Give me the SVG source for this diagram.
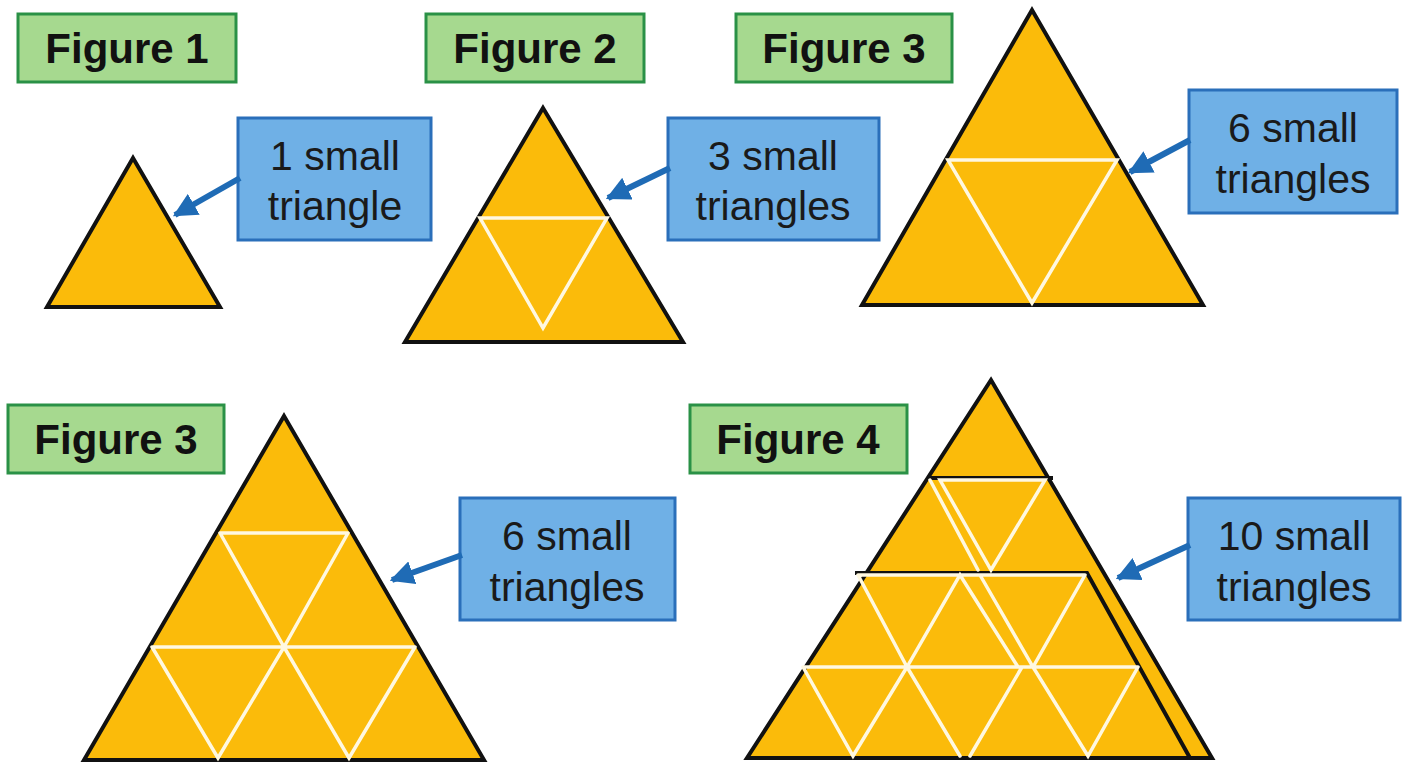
<svg xmlns="http://www.w3.org/2000/svg" width="1408" height="768" viewBox="0 0 1408 768">
<defs>
<marker id="ah" viewBox="0 0 10 10" refX="9" refY="5" markerWidth="4" markerHeight="4" orient="auto"><path d="M0,0L10,5L0,10z" fill="#1f6bb5"/></marker>
<style>
.lab rect{fill:#a6d98f;stroke:#2a9146;stroke-width:3}
.lab text{font:bold 42px "Liberation Sans",Arial,sans-serif;fill:#111;text-anchor:middle}
.note rect{fill:#6fb0e6;stroke:#2a6fba;stroke-width:3}
.note text{font:41px "Liberation Sans",Arial,sans-serif;fill:#1a1a1a;text-anchor:middle}
.tri{fill:#fbbb0a;stroke:#111;stroke-width:4;stroke-linejoin:miter}
.w{stroke:#fff8e0;stroke-width:3.5;fill:none;stroke-linecap:round}
.k{stroke:#111;stroke-width:4;fill:none}
.arr{stroke:#1f6bb5;stroke-width:6;marker-end:url(#ah)}
</style>
</defs>
<rect width="1408" height="768" fill="#fff"/>
<g id="f1"><polygon class="tri" points="133,158 220,307 47,307"/></g>
<g id="f2"><polygon class="tri" points="543,108 683,342 405,342"/><path class="w" d="M480,218H607L543,328Z"/></g>
<g id="f3a"><polygon class="tri" points="1032,10 1203,305 862,305"/><path class="w" d="M948,160H1117L1032,303Z"/></g>
<g id="f3b"><polygon class="tri" points="284,416 484,760 84,760"/>
<path class="w" d="M220,533H348M152,647H415M220,533L284,647L348,533M152,647L218,758L284,647L349,758L415,647"/></g>
<g id="f4"><polygon class="tri" points="991,380 1212,758 747,758"/>
<path class="k" d="M927,478H1053M855,573H1087L1190,758"/>
<path class="w" d="M940,480H1045L991,570ZM930,480L978,570M858,575H1085M803,667H1138M858,575L907,667L960,575L1018,667M980,575L1033,667L1085,575M803,667L853,756L907,667L960,756M1022,667L970,756M1033,667L1088,756L1138,667"/></g>
<g id="labels">
<g class="lab" id="l1"><rect x="18" y="14" width="218" height="68"/><text x="127" y="63">Figure 1</text></g>
<g class="lab" id="l2"><rect x="426" y="14" width="218" height="68"/><text x="535" y="63">Figure 2</text></g>
<g class="lab" id="l3"><rect x="736" y="14" width="216" height="68"/><text x="844" y="63">Figure 3</text></g>
<g class="lab" id="l4"><rect x="8" y="405" width="216" height="68"/><text x="116" y="454">Figure 3</text></g>
<g class="lab" id="l5"><rect x="690" y="405" width="217" height="68"/><text x="798" y="454">Figure 4</text></g>
</g>
<g id="notes">
<g class="note" id="n1"><rect x="238" y="118" width="193" height="122"/><text x="335" y="170">1 small</text><text x="335" y="220">triangle</text></g>
<g class="note" id="n2"><rect x="668" y="118" width="211" height="122"/><text x="773" y="170">3 small</text><text x="773" y="220">triangles</text></g>
<g class="note" id="n3"><rect x="1189" y="90" width="208" height="123"/><text x="1293" y="142">6 small</text><text x="1293" y="193">triangles</text></g>
<g class="note" id="n4"><rect x="460" y="498" width="215" height="122"/><text x="567" y="550">6 small</text><text x="567" y="601">triangles</text></g>
<g class="note" id="n5"><rect x="1188" y="498" width="212" height="122"/><text x="1294" y="550">10 small</text><text x="1294" y="601">triangles</text></g>
</g>
<g id="connectors">
<line class="arr" x1="240" y1="178" x2="175" y2="215"/>
<line class="arr" x1="670" y1="168" x2="608" y2="198"/>
<line class="arr" x1="1190" y1="140" x2="1130" y2="172"/>
<line class="arr" x1="462" y1="555" x2="392" y2="580"/>
<line class="arr" x1="1190" y1="545" x2="1118" y2="578"/>
</g>
</svg>
